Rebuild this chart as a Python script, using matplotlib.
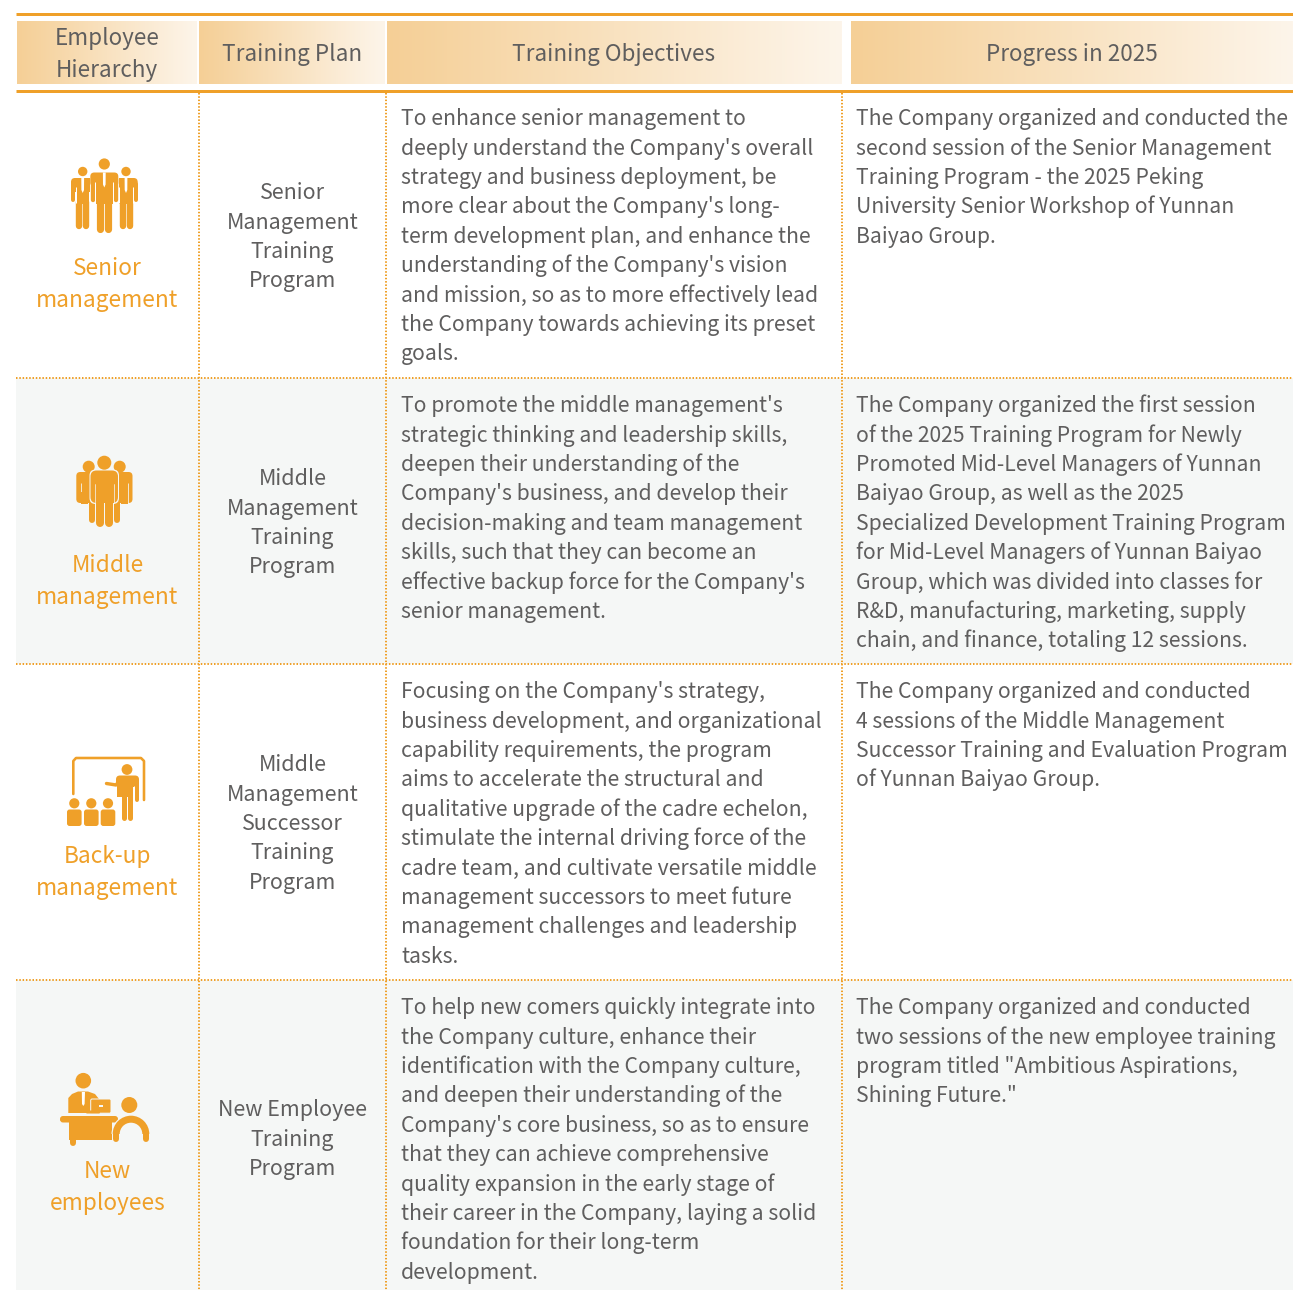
import numpy as np
import matplotlib
matplotlib.use("Agg")
import matplotlib.pyplot as plt
from matplotlib.colors import LinearSegmentedColormap
from matplotlib.patches import Circle, FancyBboxPatch, Rectangle, Wedge, Polygon

plt.rcParams['font.family'] = ['Noto Sans CJK SC', 'DejaVu Sans']

headers = [["Employee", "Hierarchy"], ["Training Plan"], ["Training Objectives"], ["Progress in 2025"]]
levels = [["Senior", "management"], ["Middle", "management"], ["Back-up", "management"], ["New", "employees"]]
plans = [
    ["Senior", "Management", "Training", "Program"],
    ["Middle", "Management", "Training", "Program"],
    ["Middle", "Management", "Successor", "Training", "Program"],
    ["New Employee", "Training", "Program"],
]
objectives = [
    ["To enhance senior management to", "deeply understand the Company's overall",
     "strategy and business deployment, be", "more clear about the Company's long-",
     "term development plan, and enhance the", "understanding of the Company's vision",
     "and mission, so as to more effectively lead", "the Company towards achieving its preset", "goals."],
    ["To promote the middle management's", "strategic thinking and leadership skills,",
     "deepen their understanding of the", "Company's business, and develop their",
     "decision-making and team management", "skills, such that they can become an",
     "effective backup force for the Company's", "senior management."],
    ["Focusing on the Company's strategy,", "business development, and organizational",
     "capability requirements, the program", "aims to accelerate the structural and",
     "qualitative upgrade of the cadre echelon,", "stimulate the internal driving force of the",
     "cadre team, and cultivate versatile middle", "management successors to meet future",
     "management challenges and leadership", "tasks."],
    ["To help new comers quickly integrate into", "the Company culture, enhance their",
     "identification with the Company culture,", "and deepen their understanding of the",
     "Company's core business, so as to ensure", "that they can achieve comprehensive",
     "quality expansion in the early stage of", "their career in the Company, laying a solid",
     "foundation for their long-term", "development."],
]
progress = [
    ["The Company organized and conducted the", "second session of the Senior Management",
     "Training Program - the 2025 Peking", "University Senior Workshop of Yunnan", "Baiyao Group."],
    ["The Company organized the first session", "of the 2025 Training Program for Newly",
     "Promoted Mid-Level Managers of Yunnan", "Baiyao Group, as well as the 2025",
     "Specialized Development Training Program", "for Mid-Level Managers of Yunnan Baiyao",
     "Group, which was divided into classes for", "R&D, manufacturing, marketing, supply",
     "chain, and finance, totaling 12 sessions."],
    ["The Company organized and conducted", "4 sessions of the Middle Management",
     "Successor Training and Evaluation Program", "of Yunnan Baiyao Group."],
    ["The Company organized and conducted", "two sessions of the new employee training",
     "program titled \"Ambitious Aspirations,", "Shining Future.\""],
]

ORANGE = "#EFA029"
TEXT = "#5F5E5E"
ALT = "#F5F7F6"
FS = 15.25
PITCH = 29.36

W, H = 1293, 1290
fig = plt.figure(figsize=(W / 100, H / 100), dpi=100)
ax = fig.add_axes([0, 0, 1, 1])
ax.set_xlim(0, W)
ax.set_ylim(H, 0)
ax.axis("off")

row_edges = [92, 378, 664, 980, 1290]
col_edges = [16, 198.5, 385.5, 841.5, 1293]
px = 0.72

for i in (1, 3):
    ax.add_patch(Rectangle((16, row_edges[i]), 1277, row_edges[i + 1] - row_edges[i], fc=ALT, ec="none", zorder=0))

cmap = LinearSegmentedColormap.from_list("hdr", ["#F5CF96", "#FDF5EA"])
grad = np.linspace(0, 1, 256)[None, :]
spans = [(17, 197), (199, 385), (387, 842), (851, 1293)]
for a, b in spans:
    ax.imshow(grad, extent=(a, b, 84, 21), cmap=cmap, vmin=0, vmax=1, aspect="auto", zorder=1)
ax.set_xlim(0, W)
ax.set_ylim(H, 0)

ax.plot([16, 1293], [14, 14], color=ORANGE, lw=3 * px, solid_capstyle="butt", zorder=2)
ax.plot([16, 1293], [91, 91], color=ORANGE, lw=3 * px, solid_capstyle="butt", zorder=2)
dots = (0, (0.75, 0.9))
for x in col_edges[1:4]:
    ax.plot([x, x], [93, H], color=ORANGE, lw=2 * px, ls=dots, zorder=2)
for y in row_edges[1:4]:
    ax.plot([16, 1293], [y, y], color=ORANGE, lw=2 * px, ls=dots, zorder=2)

hdr_cx = [107, 292, 614, 1071.5]
hdr_base = [[45, 77], [61], [61], [61]]
for cx, lines, bases in zip(hdr_cx, headers, hdr_base):
    for s, b in zip(lines, bases):
        ax.text(cx, b, s, ha="center", va="baseline", fontsize=16.2, color=TEXT, zorder=3)

first_base = [125.4, 412.4, 698.4, 1014.4]
plan_base = [199.4, 485.4, 771.4, 1116.4]
level_base = [275, 572, 863, 1178]
for i in range(4):
    for j, s in enumerate(objectives[i]):
        ax.text(401, first_base[i] + j * PITCH, s, va="baseline", ha="left", fontsize=FS, color=TEXT, zorder=3)
    for j, s in enumerate(progress[i]):
        ax.text(856, first_base[i] + j * PITCH, s, va="baseline", ha="left", fontsize=FS, color=TEXT, zorder=3)
    for j, s in enumerate(plans[i]):
        ax.text(292.4, plan_base[i] + j * PITCH, s, va="baseline", ha="center", fontsize=15.45, color=TEXT, zorder=3)
    for j, s in enumerate(levels[i]):
        ax.text(107.4, level_base[i] + j * 32, s, va="baseline", ha="center", fontsize=16.35, color=ORANGE, zorder=3)


def circ(x, y, r, c=ORANGE, z=4):
    ax.add_patch(Circle((x, y), r, fc=c, ec="none", zorder=z))


def rbox(x0, y0, x1, y1, r, c=ORANGE, z=4, ec="none", lw=0):
    ax.add_patch(FancyBboxPatch((x0 + r, y0 + r), x1 - x0 - 2 * r, y1 - y0 - 2 * r,
                                boxstyle=f"round,pad={r},rounding_size={r}", fc=c, ec=ec, lw=lw, zorder=z))


def stroke(xs, ys, w, c=ORANGE, z=4, cap="round"):
    ax.plot(xs, ys, color=c, lw=w * px, solid_capstyle=cap, solid_joinstyle="round", zorder=z)


def suit(cx, head_y, r, half, top, arm_end, foot, leg_w, arm_w, z=4):
    circ(cx, head_y, r, z=z)
    rbox(cx - half, top, cx + half, top + 14, 4, z=z)
    thalf = half - arm_w - 1
    ax.add_patch(Rectangle((cx - thalf, top + 2), 2 * thalf, arm_end - top, fc=ORANGE, ec="none", zorder=z))
    for s in (-1, 1):
        stroke([cx + s * (leg_w / 2 + 0.3)] * 2, [arm_end, foot - leg_w / 2], leg_w, z=z)
        stroke([cx + s * (half - arm_w / 2)] * 2, [top + 6, arm_end - arm_w / 2], arm_w, z=z)
        stroke([cx + s * (thalf + 0.5)] * 2, [top + 9, arm_end + 1], 1, c="white", z=z + 0.1, cap="butt")
    ax.add_patch(Polygon([(cx - 1.4, top), (cx + 1.4, top), (cx + 1.3, top + 12), (cx, top + 15), (cx - 1.3, top + 12)],
                         fc="white", ec="none", zorder=z + 0.2))


# senior management
for cx in (82.7, 126):
    suit(cx, 171.5, 4.7, 11.7, 178, 202, 229, 6.4, 4, z=4)
ax.add_patch(Rectangle((90, 172), 28.7, 62, fc="white", ec="none", zorder=4.4))
suit(104.3, 164, 5.6, 14, 172.5, 202, 232.5, 7.2, 4.4, z=5)

# middle management
for cx in (88.7, 119.7):
    circ(cx, 466.7, 6)
rbox(76.3, 472, 102, 503, 4)
rbox(106, 472, 132.5, 503, 4)
stroke([92, 92], [500, 520], 6)
stroke([116.5, 116.5], [500, 520], 6)
for x in (80.6, 128.2):
    stroke([x, x], [483, 504], 0.8, c=ALT, z=4.2, cap="butt")
ax.add_patch(Rectangle((81, 492), 7, 12, fc=ORANGE, ec="none", zorder=4.3))
ax.add_patch(Rectangle((121, 492), 7, 12, fc=ORANGE, ec="none", zorder=4.3))
circ(104.3, 462.7, 7, z=5)
rbox(89.5, 469.5, 119, 504, 6, c=ALT, z=4.8)
rbox(90.5, 470.5, 118, 503, 6, z=5)
ax.add_patch(Rectangle((95.5, 495), 18, 8, fc=ORANGE, ec="none", zorder=5))
stroke([100, 100], [495, 523], 8, z=5)
stroke([108.8, 108.8], [495, 523], 8, z=5)
for x in (94.7, 113.8):
    stroke([x, x], [484, 503], 0.7, c=ALT, z=5.1)

# back-up management
stroke([73.3, 73.3, 76, 141, 144, 144], [794, 761, 758, 758, 761, 800], 2.6)
circ(127, 769.5, 5.4)
rbox(116, 775.5, 139, 787, 4)
ax.add_patch(Rectangle((117, 780), 15.5, 17, fc=ORANGE, ec="none", zorder=4))
stroke([123.6, 123.6], [792, 818], 5)
stroke([130.3, 130.3], [792, 818], 5)
stroke([106.5, 116, 120], [783.5, 785, 780], 3.4)
stroke([136.8, 136.8], [782, 800], 4)
stroke([134, 134], [786, 802], 1, c="white", z=4.2, cap="butt")
for x in (74.3, 91.3, 108):
    circ(x, 803.3, 5.1)
    rbox(x - 7.3, 809.5, x + 7.3, 826, 2.6)

# new employees
circ(83.3, 1080.7, 7.8)
ax.add_patch(Polygon([(68.3, 1113), (68.3, 1098), (72, 1094), (78, 1091.5), (88, 1091.5), (95, 1094), (99, 1099), (99, 1113)],
                     fc=ORANGE, ec="none", zorder=4))
ax.add_patch(Polygon([(81.8, 1092), (85, 1092), (84.6, 1104), (83.3, 1106), (82, 1104)], fc="white", ec="none", zorder=4.2))
rbox(90.7, 1099, 111, 1113.2, 1.5, z=4.5, ec=ALT, lw=1 * px)
ax.add_patch(Rectangle((99, 1105), 4, 2, fc=ALT, ec="none", zorder=4.6))
rbox(86, 1110.5, 100, 1113.5, 1, z=4.5)
rbox(60, 1116, 118, 1122.5, 3)
ax.add_patch(Rectangle((69.3, 1120), 42.5, 20, fc=ORANGE, ec="none", zorder=4))
stroke([72.5, 72.5], [1136, 1142.5], 6)
circ(129.3, 1105, 8)
ax.add_patch(Wedge((131, 1134), 18.3, 180, 0, width=7, fc=ORANGE, ec="none", zorder=4.7))
ax.add_patch(Wedge((131, 1134), 19.5, 180, 0, width=1.5, fc=ALT, ec="none", zorder=4.6))
stroke([115.7, 115.7], [1134, 1138.5], 6, z=4.7)
stroke([146.3, 146.3], [1134, 1138.5], 6, z=4.7)

fig.savefig("out.png", dpi=100)
